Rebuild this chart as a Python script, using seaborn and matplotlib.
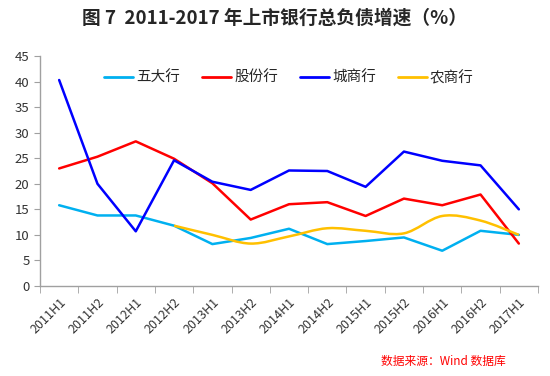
import matplotlib
matplotlib.use("Agg")
import matplotlib.pyplot as plt
import seaborn as sns
import numpy as np
import pandas as pd
from matplotlib.path import Path
from matplotlib.patches import PathPatch
from matplotlib.lines import Line2D

periods = ["2011H1", "2011H2", "2012H1", "2012H2", "2013H1", "2013H2", "2014H1",
           "2014H2", "2015H1", "2015H2", "2016H1", "2016H2", "2017H1"]
big_five = [15.8, 13.8, 13.8, 11.8, 8.2, 9.4, 11.2, 8.2, 8.8, 9.5, 6.9, 10.8, 10.0]
joint_stock = [23.0, 25.3, 28.3, 24.9, 20.1, 13.0, 16.0, 16.4, 13.7, 17.1, 15.8, 17.9, 8.3]
city_banks = [40.3, 20.0, 10.7, 24.6, 20.4, 18.8, 22.6, 22.5, 19.4, 26.3, 24.5, 23.6, 15.0]
rural_banks = [None, None, None, 11.8, 10.0, 8.3, 9.7, 11.3, 10.8, 10.3, 13.7, 12.8, 10.0]

series_names = ["五大行", "股份行", "城商行", "农商行"]
colors = ["#00B0F0", "#FF0000", "#0000FF", "#FFC000"]

sns.set_style("white")
plt.rcParams["font.family"] = ["Noto Sans CJK SC", "DejaVu Sans"]

df = pd.DataFrame({"period": periods, "五大行": big_five, "股份行": joint_stock,
                   "城商行": city_banks})
long_df = df.melt(id_vars="period", var_name="series", value_name="value")
long_df["x"] = long_df["period"].map({p: i for i, p in enumerate(periods)})

fig = plt.figure(figsize=(5.5, 3.76), dpi=100)
ax = fig.add_axes([40 / 550, 1 - 286 / 376, 498 / 550, 230 / 376])

sns.lineplot(data=long_df, x="x", y="value", hue="series",
             hue_order=series_names[:3], palette=colors[:3],
             linewidth=1.8, ax=ax, legend=False, sort=False)

# smoothed line for 农商行 (Excel-style bezier through the points)
pts = [(i, v) for i, v in enumerate(rural_banks) if v is not None]
xs = np.array([p[0] for p in pts], float)
ys = np.array([p[1] for p in pts], float)
verts = [(xs[0], ys[0])]
codes = [Path.MOVETO]
n = len(xs)
for i in range(n - 1):
    p0 = (xs[max(i - 1, 0)], ys[max(i - 1, 0)])
    p1 = (xs[i], ys[i])
    p2 = (xs[i + 1], ys[i + 1])
    p3 = (xs[min(i + 2, n - 1)], ys[min(i + 2, n - 1)])
    c1 = (p1[0] + (p2[0] - p0[0]) / 6, p1[1] + (p2[1] - p0[1]) / 6)
    c2 = (p2[0] - (p3[0] - p1[0]) / 6, p2[1] - (p3[1] - p1[1]) / 6)
    verts += [c1, c2, p2]
    codes += [Path.CURVE4] * 3
ax.add_patch(PathPatch(Path(verts, codes), facecolor="none",
                       edgecolor=colors[3], linewidth=1.8, zorder=2))

ax.set_xlim(-0.5, len(periods) - 0.5)
ax.set_ylim(0, 45)
ax.set_yticks(range(0, 50, 5))
ax.set_xticks(np.arange(len(periods)))
ax.set_xticklabels(periods, rotation=45, ha="right", rotation_mode="anchor")
ax.set_xticks(np.arange(-0.5, len(periods)), minor=True)
ax.tick_params(axis="x", which="major", length=0, pad=7, labelsize=9,
               labelcolor="#333333")
ax.tick_params(axis="x", which="minor", length=5, color="#A0A0A0", bottom=True)
ax.tick_params(axis="y", length=4, color="#A0A0A0", left=True, labelsize=9.5,
               labelcolor="#333333")
ax.set_xlabel("")
ax.set_ylabel("")
for s in ["top", "right"]:
    ax.spines[s].set_visible(False)
for s in ["left", "bottom"]:
    ax.spines[s].set_color("#A0A0A0")
    ax.spines[s].set_linewidth(1.0)

handles = [Line2D([], [], color=c, linewidth=2) for c in colors]
ax.legend(handles, series_names, loc="center", bbox_to_anchor=(0.5, 0.905),
          ncol=4, frameon=False, fontsize=10.5, handlelength=2.0,
          handletextpad=0.2, columnspacing=1.5)

fig.text(0.5, 0.952, "图 7  2011-2017 年上市银行总负债增速（%）", ha="center",
         va="center", fontsize=13.5, fontweight="heavy")
fig.text(0.92, 0.04, "数据来源：Wind 数据库", ha="right", va="center",
         fontsize=8.5, color="#FF0000", style="italic")

fig.savefig("out.png", dpi=100)
